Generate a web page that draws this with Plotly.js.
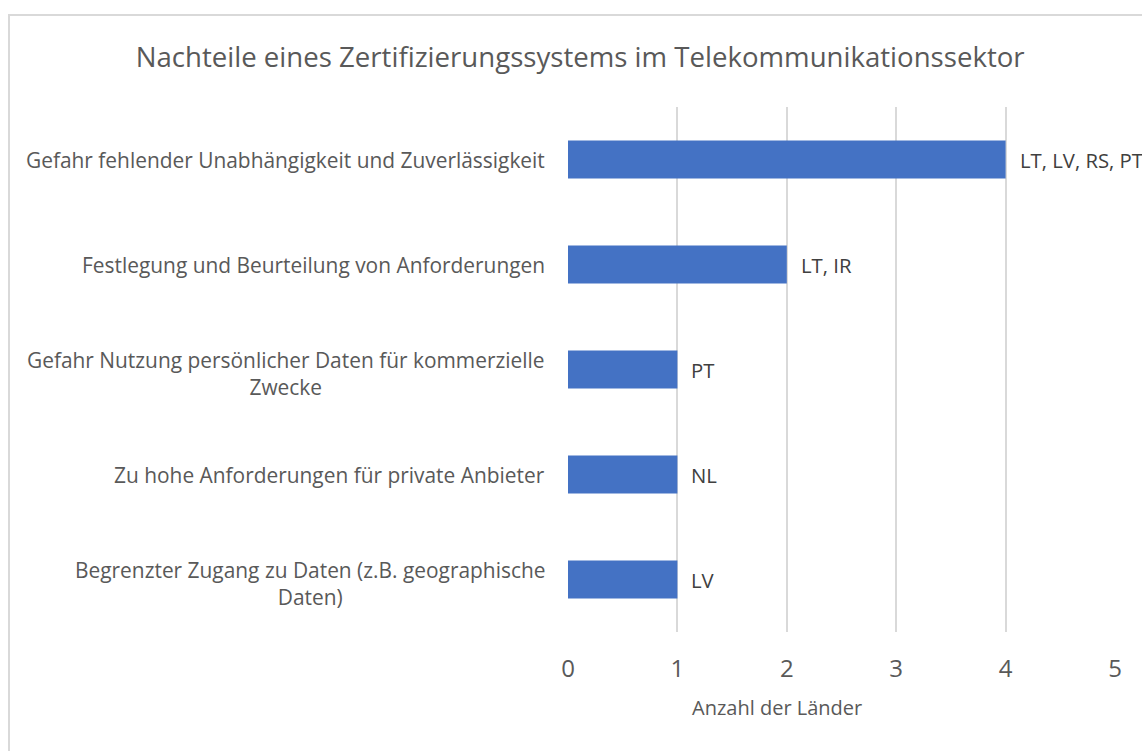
<!DOCTYPE html>
<html>
<head>
<meta charset="utf-8">
<script src="https://cdn.plot.ly/plotly-3.0.1.min.js"></script>
<style>
  html, body { margin: 0; padding: 0; background: #fff; overflow: hidden; }
  #frame { position: absolute; left: 8px; top: 14px; width: 1160px; height: 760px; border: 2px solid #d9d9d9; box-sizing: border-box; pointer-events: none; z-index: 5; }
  #chart { position: absolute; left: 0; top: 0; width: 1142px; height: 751px; }
</style>
</head>
<body>
<div id="chart"></div>
<div id="frame"></div>
<script>
const categories = [
  "Gefahr fehlender Unabhängigkeit und Zuverlässigkeit",
  "Festlegung und Beurteilung von Anforderungen",
  "Gefahr Nutzung persönlicher Daten für kommerzielle<br>Zwecke",
  "Zu hohe Anforderungen für private Anbieter",
  "Begrenzter Zugang zu Daten (z.B. geographische<br>Daten)"
];
const values = [4, 2, 1, 1, 1];
const dataLabels = ["LT, LV, RS, PT", "LT, IR", "PT", "NL", "LV"];
const xTicks = [0, 1, 2, 3, 4, 5];

const FONT = "Open Sans, Noto Sans, sans-serif";
const ids = categories.map((c, i) => "c" + i);

const trace = {
  type: "bar",
  orientation: "h",
  y: ids,
  x: values,
  width: 0.36,
  marker: { color: "#4472C4" },
  hoverinfo: "x"
};

const annotations = [];
categories.forEach((c, i) => {
  const multi = c.indexOf("<br>") >= 0;
  annotations.push({
    xref: "paper", yref: "y", x: 0, y: ids[i],
    xanchor: "right", yanchor: "middle", xshift: -21, yshift: multi ? -4 : 0,
    text: c, align: "center", showarrow: false,
    font: { family: FONT, size: 20.9, color: "#595959" }
  });
  annotations.push({
    xref: "x", yref: "y", x: values[i], y: ids[i],
    xanchor: "left", yanchor: "middle", xshift: 12,
    text: dataLabels[i], showarrow: false,
    font: { family: FONT, size: 20.3, color: "#404040" }
  });
});
annotations.push({
  xref: "paper", yref: "paper", x: 0.382, y: -0.143,
  xanchor: "center", yanchor: "middle",
  text: "Anzahl der Länder", showarrow: false,
  font: { family: FONT, size: 20, color: "#595959" }
});

const layout = {
  width: 1142, height: 751,
  margin: { l: 568, r: 27, t: 107, b: 119, pad: 0 },
  paper_bgcolor: "#fff", plot_bgcolor: "#fff",
  showlegend: false,
  title: {
    text: "Nachteile eines Zertifizierungssystems im Telekommunikationssektor",
    xref: "container", yref: "container", x: 0.508, y: 1 - 57 / 751,
    xanchor: "center", yanchor: "middle",
    font: { family: FONT, size: 27.6, color: "#595959" }
  },
  xaxis: {
    range: [0, 5], tickvals: xTicks, ticktext: xTicks.map(String),
    showgrid: true, gridcolor: "#d9d9d9", gridwidth: 2,
    zeroline: false, showline: false, ticks: "",
    ticklabelstandoff: 20,
    tickfont: { family: FONT, size: 24, color: "#595959" },
    fixedrange: true
  },
  yaxis: {
    type: "category", autorange: "reversed",
    showticklabels: false, showgrid: false, zeroline: false, showline: false, ticks: "",
    fixedrange: true
  },
  annotations: annotations,
  bargap: 0.64
};

Plotly.newPlot("chart", [trace], layout, { displayModeBar: false, staticPlot: true });
</script>
</body>
</html>
